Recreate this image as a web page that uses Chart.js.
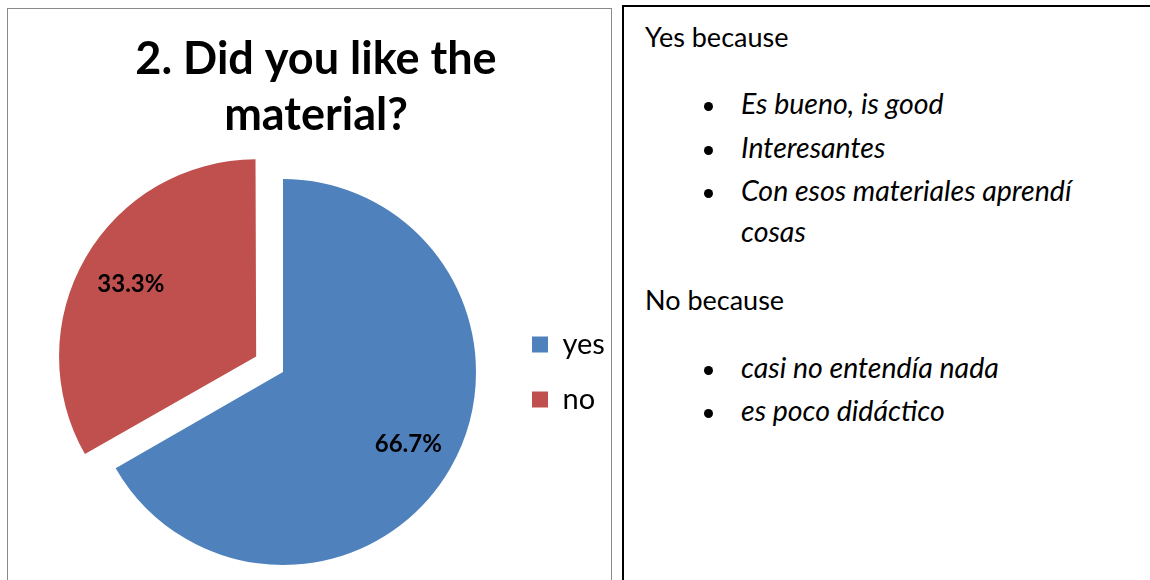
<!DOCTYPE html>
<html>
<head>
<meta charset="utf-8">
<script src="https://cdn.jsdelivr.net/npm/chart.js"></script>
<style>
  html, body { margin: 0; padding: 0; background: #fff; width: 1150px; height: 580px; overflow: hidden; }
  body { position: relative; font-family: Lato, "Open Sans", sans-serif; color: #000; }
  #frame { position: absolute; left: 7px; top: 8px; width: 603px; height: 600px; border: 1px solid #8a8a8a; border-bottom: none; }
  #chartBox { position: absolute; left: 8px; top: 9px; width: 602px; height: 571px; }
  #notes { position: absolute; left: 622px; top: 5px; width: 540px; height: 600px; border-top: 2px solid #000; border-left: 2px solid #000; }
  .line { position: absolute; line-height: 30px; white-space: nowrap; }
  .head { left: 21px; font-size: 27px; }
  .item { left: 117px; font-size: 28.5px; font-style: italic; }
  .item.dot::before { content: ""; position: absolute; left: -37.5px; top: 13.5px; width: 9px; height: 9px; border-radius: 50%; background: #000; }
</style>
</head>
<body>
<div id="frame"></div>
<div id="chartBox"><canvas id="chart" width="602" height="571"></canvas></div>
<div id="notes">
  <div class="line head" style="top:15px">Yes because</div>
  <div class="line item dot" style="top:81px">Es bueno, is good</div>
  <div class="line item dot" style="top:125px">Interesantes</div>
  <div class="line item dot" style="top:168px">Con esos materiales aprendí</div>
  <div class="line item" style="top:209px">cosas</div>
  <div class="line head" style="top:278px">No because</div>
  <div class="line item dot" style="top:345px">casi no entendía nada</div>
  <div class="line item dot" style="top:388px">es poco didáctico</div>
</div>
<script>
// answers to question 2
const categories = ['yes', 'no'];
const shares = [66.7, 33.3];

// percentage text drawn inside each slice
const sliceLabels = {
  id: 'sliceLabels',
  afterDatasetsDraw(chart) {
    const ctx = chart.ctx;
    const meta = chart.getDatasetMeta(0);
    ctx.save();
    ctx.font = 'bold 24px Lato';
    ctx.fillStyle = '#000';
    ctx.textAlign = 'center';
    ctx.textBaseline = 'middle';
    meta.data.forEach(function (arc, i) {
      const p = arc.getProps(['x', 'y', 'startAngle', 'endAngle', 'outerRadius'], true);
      const mid = (p.startAngle + p.endAngle) / 2;
      // arcs are pushed out by a quarter of their offset option
      const r = p.outerRadius * 0.75 + (arc.options.offset || 0) / 4;
      ctx.fillText(shares[i].toFixed(1) + '%', p.x + Math.cos(mid) * r, p.y + Math.sin(mid) * r);
    });
    ctx.restore();
  }
};

const ctx = document.getElementById('chart').getContext('2d');
const chart = new Chart(ctx, {
  type: 'pie',
  data: {
    labels: categories,
    datasets: [{
      data: shares,
      backgroundColor: ['#4F81BD', '#C0504D'],
      borderWidth: 0,
      offset: [0, 124],
      radius: 193
    }]
  },
  options: {
    responsive: false,
    animation: false,
    layout: { padding: { left: 16, right: 2, top: 0, bottom: 0 } },
    plugins: {
      title: {
        display: true,
        text: ['2. Did you like the', 'material?'],
        color: '#000',
        font: { family: 'Lato', size: 45, weight: 'bold', lineHeight: 56 / 45 },
        padding: { top: 22, bottom: 21 }
      },
      // empty left box, keeps the pie left of the title centre
      subtitle: {
        display: true,
        position: 'left',
        text: '',
        font: { size: 36, lineHeight: 1 },
        padding: 0
      },
      legend: {
        position: 'right',
        fullSize: false,
        maxWidth: 102,
        labels: {
          color: '#000',
          font: { family: 'Lato', size: 29 },
          boxWidth: 16,
          boxHeight: 16,
          padding: 26
        }
      },
      tooltip: { enabled: false }
    }
  },
  plugins: [sliceLabels]
});
</script>
</body>
</html>
